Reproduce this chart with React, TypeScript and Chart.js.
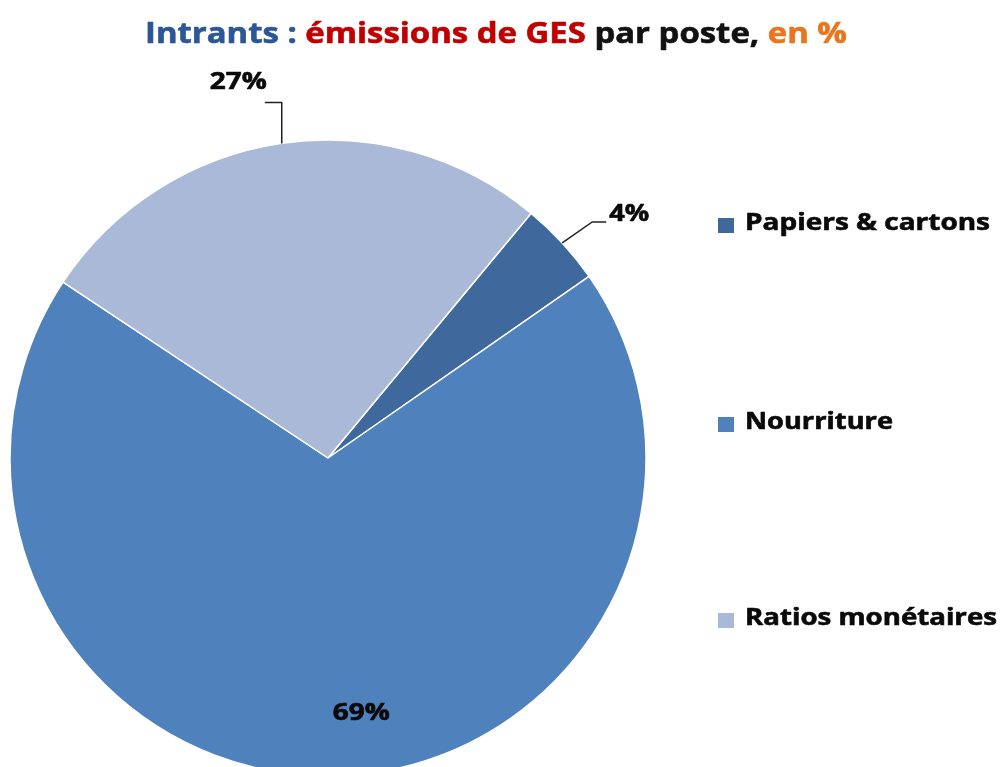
import React, { useEffect, useRef } from "react";
import { Chart, registerables } from "chart.js";

Chart.register(...registerables);

const categories = ["Papiers & cartons", "Nourriture", "Ratios monétaires"];
const values = [4.3, 69.0, 26.7];
const percentLabels = ["4%", "69%", "27%"];
const sliceColors = ["#3F699D", "#4F81BD", "#AAB9D7"];
const titleParts = [
  { text: "Intrants : ", color: "#2B5797" },
  { text: "émissions de GES", color: "#C00000" },
  { text: " par poste, ", color: "#111111" },
  { text: "en %", color: "#E9761F" },
];

const FONT = "'Open Sans', Lato, sans-serif";

// draws text squeezed/stretched horizontally to a target width
function drawFitted(
  ctx: CanvasRenderingContext2D,
  parts: { text: string; color: string }[],
  left: number,
  baseline: number,
  width: number,
  bold: number
) {
  const full = parts.map((p) => p.text).join("");
  const natural = ctx.measureText(full).width;
  const sx = width / natural;
  ctx.save();
  ctx.translate(left, baseline);
  ctx.scale(sx, 1);
  ctx.textAlign = "left";
  ctx.textBaseline = "alphabetic";
  let x = 0;
  for (const p of parts) {
    ctx.fillStyle = p.color;
    ctx.strokeStyle = p.color;
    ctx.lineWidth = bold;
    ctx.lineJoin = "round";
    ctx.fillText(p.text, x, 0);
    if (bold > 0) ctx.strokeText(p.text, x, 0);
    x += ctx.measureText(p.text).width;
  }
  ctx.restore();
}

const overlayPlugin = {
  id: "overlay",
  afterDatasetsDraw(chart: any) {
    const ctx: CanvasRenderingContext2D = chart.ctx;
    ctx.save();
    // Title
    ctx.font = `bold 29px ${FONT}`;
    drawFitted(ctx, titleParts, 145, 43, 702, 0.6);

    // Legend
    const legendY = [230, 429, 625];
    const legendW = [245, 148, 252];
    ctx.font = `bold 23px ${FONT}`;
    categories.forEach((c, i) => {
      ctx.fillStyle = sliceColors[i];
      ctx.fillRect(718, legendY[i] - 12, 16, 15);
      drawFitted(ctx, [{ text: c, color: "#0A0A0A" }], 745, legendY[i], legendW[i], 0.6);
    });

    // Data labels
    const meta = chart.getDatasetMeta(0);
    ctx.font = `bold 23px ${FONT}`;
    meta.data.forEach((arc: any, i: number) => {
      const { x: cx, y: cy, startAngle, endAngle, outerRadius } = arc.getProps(
        ["x", "y", "startAngle", "endAngle", "outerRadius"],
        true
      );
      const mid = (startAngle + endAngle) / 2;
      const ax = cx + Math.cos(mid) * outerRadius;
      const ay = cy + Math.sin(mid) * outerRadius;
      ctx.strokeStyle = "#222222";
      ctx.lineWidth = 1.5;
      const lab = [{ text: percentLabels[i], color: "#0A0A0A" }];
      if (i === 0) {
        const ex = ax + 30, ey = ay - 21;
        ctx.beginPath();
        ctx.moveTo(ax, ay);
        ctx.lineTo(ex, ey);
        ctx.lineTo(ex + 14, ey);
        ctx.stroke();
        drawFitted(ctx, lab, ex + 17, ey - 1, 40, 0.6);
      } else if (i === 2) {
        const ex = ax, ey = ay - 41;
        ctx.beginPath();
        ctx.moveTo(ax, ay);
        ctx.lineTo(ex, ey);
        ctx.lineTo(ex - 17, ey);
        ctx.stroke();
        drawFitted(ctx, lab, ex - 72, ey - 13, 57, 0.6);
      } else {
        const r = outerRadius * 0.8;
        const lx = cx + Math.cos(mid) * r + 30;
        const ly = cy + Math.sin(mid) * r;
        drawFitted(ctx, lab, lx - 28, ly + 8, 57, 0.6);
      }
    });
    ctx.restore();
  },
};

export default function App() {
  const ref = useRef<HTMLCanvasElement | null>(null);
  useEffect(() => {
    if (!ref.current) return;
    const chart = new Chart(ref.current, {
      type: "pie",
      data: {
        labels: categories,
        datasets: [
          {
            data: values,
            backgroundColor: sliceColors,
            borderColor: "#FFFFFF",
            borderWidth: 1.5,
            radius: 318,
            clip: false as any,
          } as any,
        ],
      },
      options: {
        responsive: false,
        animation: false,
        devicePixelRatio: 1,
        rotation: 39.7,
        layout: { padding: { left: 0, right: 347, top: 149, bottom: 0 } },
        plugins: {
          legend: { display: false },
          title: { display: false },
          tooltip: { enabled: false },
        },
      },
      plugins: [overlayPlugin],
    });
    document.fonts?.ready.then(() => chart.update());
    return () => chart.destroy();
  }, []);
  return (
    <div
      style={{
        position: "fixed",
        left: 0,
        top: 0,
        width: 1003,
        height: 767,
        overflow: "hidden",
        background: "#FFFFFF",
      }}
    >
      <canvas ref={ref} width={1003} height={767} style={{ width: 1003, height: 767 }} />
    </div>
  );
}
